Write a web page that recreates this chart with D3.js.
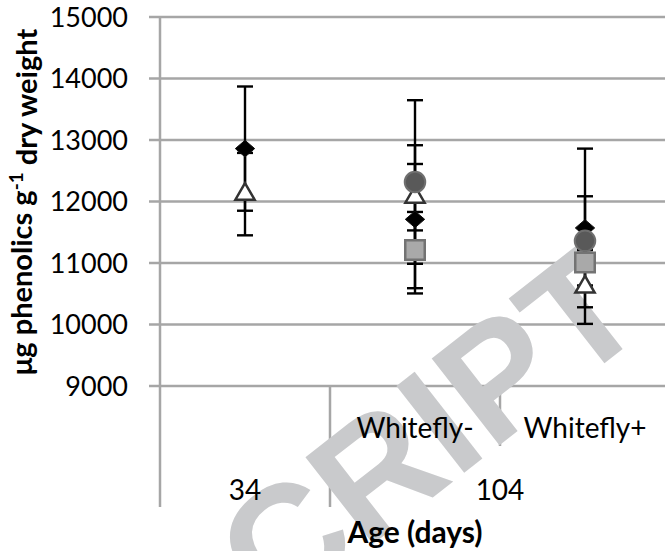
<!DOCTYPE html>
<html>
<head>
<meta charset="utf-8">
<style>
    body { margin: 0; background: white; }
    svg { display: block; background: white; }
    .tick-label { font-family: Lato, 'Open Sans', sans-serif; font-size: 27px; fill: #000; }
    .cat-label { font-family: Lato, 'Open Sans', sans-serif; font-size: 28px; fill: #000; }
    .title { font-family: Lato, 'Open Sans', sans-serif; font-weight: bold; font-size: 29px; fill: #000; }
</style>
</head>
<body>
<svg width="665" height="551" id="chart"></svg>

<script src="https://cdnjs.cloudflare.com/ajax/libs/d3/7.8.5/d3.min.js"></script>
<script>
    // categories (inner label, outer group)
    let slots = ["34", "Whitefly-", "Whitefly+"]
    let innerLabels = ["", "Whitefly-", "Whitefly+"]
    let yTicks = [9000, 10000, 11000, 12000, 13000, 14000, 15000]

    // series means and error (+/-) per slot, null = no data
    let diamondVals   = [12860, 11710, 11570]
    let diamondErr    = [1010, 1205, 1290]
    let triangleVals  = [12120, 12070, 10610]
    let triangleErr   = [670, 540, 600]
    let circleVals    = [null, 12317, 11360]
    let circleErr     = [null, 1330, 725]
    let squareVals    = [null, 11210, 11010]
    let squareErr     = [null, 620, 150]

    let svg = d3.select("#chart")

    let margin = { top: 17, left: 160, bottom: 386, right: 670 }

    let x = d3.scaleBand()
        .domain(slots)
        .range([margin.left, margin.right])

    let y = d3.scaleLinear()
        .domain([9000, 15000])
        .range([margin.bottom, margin.top])

    // horizontal gridlines
    svg.append("g")
        .selectAll("line")
        .data(yTicks)
        .join("line")
        .attr("x1", margin.left - 11)
        .attr("x2", 665)
        .attr("y1", d => y(d))
        .attr("y2", d => y(d))
        .style("stroke", "#a6a6a6")
        .style("stroke-width", 2.5)

    // y axis line
    svg.append("line")
        .attr("x1", margin.left).attr("x2", margin.left)
        .attr("y1", y(15000)).attr("y2", 507)
        .style("stroke", "#a6a6a6")
        .style("stroke-width", 2.5)

    // category separators
    svg.append("line")
        .attr("x1", x("Whitefly-")).attr("x2", x("Whitefly-"))
        .attr("y1", y(9000)).attr("y2", 507)
        .style("stroke", "#a6a6a6").style("stroke-width", 2.5)
    svg.append("line")
        .attr("x1", x("Whitefly+")).attr("x2", x("Whitefly+"))
        .attr("y1", y(9000)).attr("y2", 446)
        .style("stroke", "#a6a6a6").style("stroke-width", 2.5)

    // y tick labels
    svg.append("g")
        .selectAll("text")
        .data(yTicks)
        .join("text")
        .attr("class", "tick-label")
        .attr("x", 128)
        .attr("y", d => y(d))
        .attr("dy", "0.36em")
        .attr("text-anchor", "end")
        .text(d => d)

    // watermark
    svg.append("text")
        .attr("transform", "translate(652,326) rotate(-38)")
        .attr("text-anchor", "end")
        .style("font-family", "'Liberation Sans', Arial, sans-serif")
        .style("font-weight", "bold")
        .style("font-size", "160px")
        .style("fill", "#c9cacc")
        .text("CRIPT")

    // inner category labels
    svg.append("g")
        .selectAll("text")
        .data(slots.filter((d, i) => innerLabels[i] != ""))
        .join("text")
        .attr("class", "cat-label")
        .attr("x", d => x(d) + x.bandwidth() / 2)
        .attr("y", 438)
        .attr("text-anchor", "middle")
        .text(d => d)

    // outer group labels
    svg.append("text")
        .attr("class", "cat-label")
        .attr("x", x("34") + x.bandwidth() / 2)
        .attr("y", 500)
        .attr("text-anchor", "middle")
        .text("34")
    svg.append("text")
        .attr("class", "cat-label")
        .attr("x", x("Whitefly-") + x.bandwidth())
        .attr("y", 500)
        .attr("text-anchor", "middle")
        .text("104")

    // axis titles
    svg.append("text")
        .attr("class", "title")
        .attr("x", 415)
        .attr("y", 543)
        .attr("text-anchor", "middle")
        .style("font-size", "30px")
        .text("Age (days)")

    let yTitle = svg.append("text")
        .attr("class", "title")
        .attr("transform", "translate(32,202) rotate(-90)")
        .attr("text-anchor", "middle")
    yTitle.append("tspan").text("μg phenolics g")
    yTitle.append("tspan").attr("dy", "-0.45em").style("font-size", "19px").text("-1")
    yTitle.append("tspan").attr("dy", "0.45em").text(" dry weight")

    // series table
    let series = [
        { name: "triangle", vals: triangleVals, err: triangleErr },
        { name: "diamond", vals: diamondVals, err: diamondErr },
        { name: "circle", vals: circleVals, err: circleErr },
        { name: "square", vals: squareVals, err: squareErr }
    ]
    let points = []
    series.forEach(s => {
        s.vals.forEach((v, i) => {
            if (v != null) points.push({ name: s.name, slot: slots[i], v: v, e: s.err[i] })
        })
    })
    let cx = d => x(d.slot) + x.bandwidth() / 2
    let capW = 8

    // error bars
    let eb = svg.append("g")
        .selectAll("g")
        .data(points)
        .join("g")
        .style("stroke", "#000")
        .style("stroke-width", 2.4)
    eb.append("line")
        .attr("x1", cx).attr("x2", cx)
        .attr("y1", d => y(d.v + d.e)).attr("y2", d => y(d.v - d.e))
    eb.append("line")
        .attr("x1", d => cx(d) - capW).attr("x2", d => cx(d) + capW)
        .attr("y1", d => y(d.v + d.e)).attr("y2", d => y(d.v + d.e))
    eb.append("line")
        .attr("x1", d => cx(d) - capW).attr("x2", d => cx(d) + capW)
        .attr("y1", d => y(d.v - d.e)).attr("y2", d => y(d.v - d.e))

    // wide diamond like the excel marker
    let wideDiamond = {
        draw(context, size) {
            let r = Math.sqrt(size) / 2
            context.moveTo(0, -r * 0.9)
            context.lineTo(r * 1.05, 0)
            context.lineTo(0, r * 0.9)
            context.lineTo(-r * 1.05, 0)
            context.closePath()
        }
    }

    // markers
    let shapes = {
        triangle: { type: d3.symbolTriangle, size: 160, fill: "#fff", stroke: "#333", sw: 2.5 },
        diamond: { type: wideDiamond, size: 340, fill: "#000", stroke: "#111", sw: 1 },
        circle: { type: d3.symbolCircle, size: 330, fill: "#595959", stroke: "#6f6f6f", sw: 2 },
        square: { type: d3.symbolSquare, size: 380, fill: "#a9a9a9", stroke: "#737373", sw: 2.5 }
    }
    svg.append("g")
        .selectAll("path")
        .data(points)
        .join("path")
        .attr("transform", d => `translate(${cx(d)},${y(d.v)})`)
        .attr("d", d => d3.symbol().type(shapes[d.name].type).size(shapes[d.name].size)())
        .style("fill", d => shapes[d.name].fill)
        .style("stroke", d => shapes[d.name].stroke)
        .style("stroke-width", d => shapes[d.name].sw)
</script>
</body>
</html>
